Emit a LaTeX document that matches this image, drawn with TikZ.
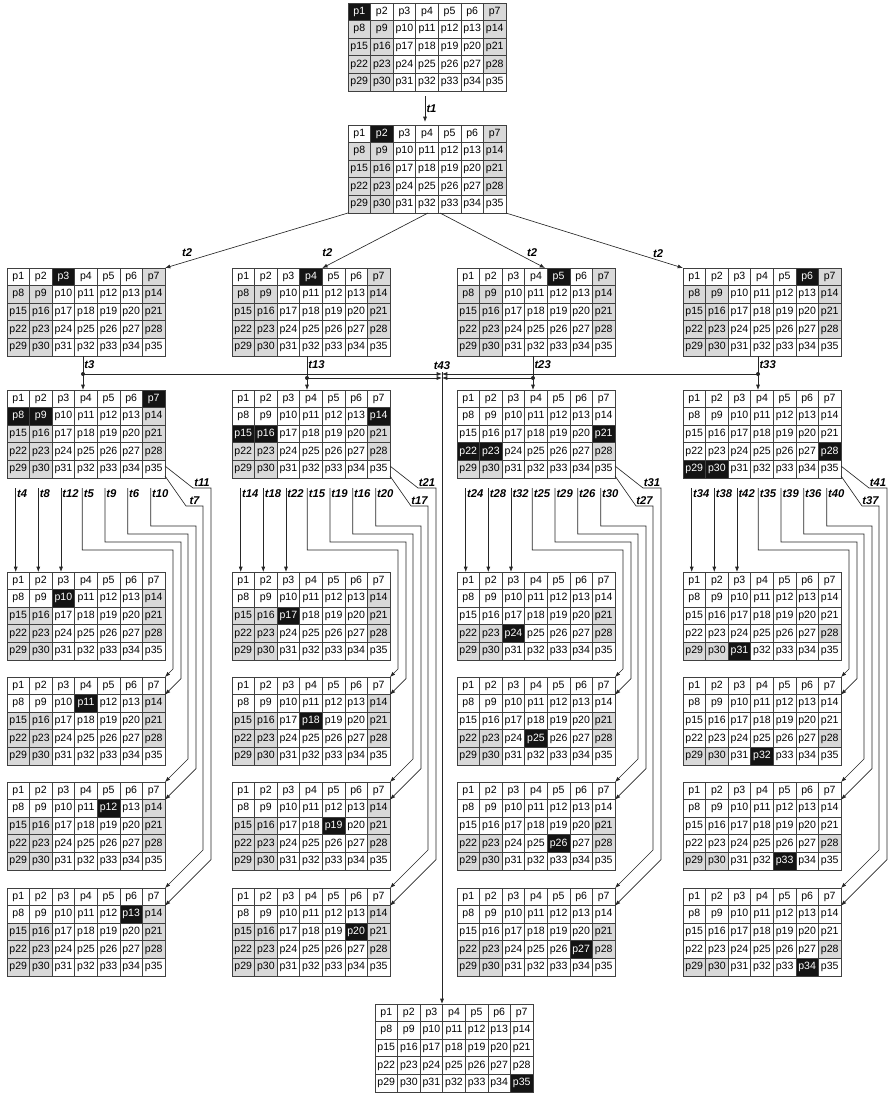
\documentclass[tikz,border=0pt]{standalone}
\usepackage{fontspec}
\setmainfont{Liberation Sans}
\usetikzlibrary{arrows.meta,calc}
\tikzset{
  gridbox/.style={anchor=north west,inner sep=0pt,outer sep=0pt,minimum width=4.74cm,minimum height=2.64cm},
  gridline/.style={draw=black!75,line width=0.6pt},
  celltxt/.style={font=\fontsize{9}{10}\selectfont,inner sep=0pt},
  lbl/.style={font=\fontsize{9.6}{10}\selectfont\bfseries\itshape,inner sep=1pt},
  arr/.style={-{Latex[length=4.5pt,width=3.4pt]},line width=0.55pt,draw=black!85},
  dot/.style={fill=black!85}
}
\newcommand{\cellw}{22.571}
\newcommand{\cellh}{17.6}
% one 7x5 board: name, top-left corner, black cells, gray cells (0 = none)
\newcommand{\pgrid}[4]{%
  \node[gridbox] (#1) at (#2) {};
  \foreach \n in {#4}{
    \ifnum\n>0
      \pgfmathtruncatemacro{\cx}{mod(\n-1,7)}
      \pgfmathtruncatemacro{\ry}{div(\n-1,7)}
      \fill[black!15] ($(#1.north west)+(\cx*\cellw,\ry*\cellh)$) rectangle ++(\cellw,\cellh);
    \fi
  }
  \foreach \n in {#3}{
    \expandafter\xdef\csname on#1@\n\endcsname{1}
    \pgfmathtruncatemacro{\cx}{mod(\n-1,7)}
    \pgfmathtruncatemacro{\ry}{div(\n-1,7)}
    \fill[black!92] ($(#1.north west)+(\cx*\cellw,\ry*\cellh)$) rectangle ++(\cellw,\cellh);
  }
  \foreach \k in {1,...,6}
    \draw[gridline] ($(#1.north west)+(\k*\cellw,0)$) -- ++(0,5*\cellh);
  \foreach \k in {1,...,4}
    \draw[gridline] ($(#1.north west)+(0,\k*\cellh)$) -- ++(7*\cellw,0);
  \foreach \n in {1,...,35}{
    \pgfmathtruncatemacro{\cx}{mod(\n-1,7)}
    \pgfmathtruncatemacro{\ry}{div(\n-1,7)}
    \ifcsname on#1@\n\endcsname \def\tcol{white}\else \def\tcol{black}\fi
    \node[celltxt,text=\tcol] (#1-\n) at ($(#1.north west)+(\cx*\cellw+0.5*\cellw,\ry*\cellh+0.5*\cellh)$) {p\n};
  }
  \draw[gridline] (#1.north west) rectangle (#1.south east);
}

\begin{document}
\begin{tikzpicture}[x=0.03cm,y=-0.03cm]
\useasboundingbox (0,0) rectangle (887,1093);

% boards
\pgrid{g0}{348,3}{1}{7,8,9,14,15,16,21,22,23,28,29,30}
\pgrid{g1}{348,125}{2}{7,8,9,14,15,16,21,22,23,28,29,30}
\pgrid{g2a}{7,268}{3}{7,8,9,14,15,16,21,22,23,28,29,30}
\pgrid{g2b}{232,268}{4}{7,8,9,14,15,16,21,22,23,28,29,30}
\pgrid{g2c}{457,268}{5}{7,8,9,14,15,16,21,22,23,28,29,30}
\pgrid{g2d}{683,268}{6}{7,8,9,14,15,16,21,22,23,28,29,30}
\pgrid{g3a}{7,390}{7,8,9}{14,15,16,21,22,23,28,29,30}
\pgrid{g3b}{232,390}{14,15,16}{21,22,23,28,29,30}
\pgrid{g3c}{457,390}{21,22,23}{28,29,30}
\pgrid{g3d}{683,390}{28,29,30}{0}
\pgrid{g4a1}{7,572}{10}{14,15,16,21,22,23,28,29,30}
\pgrid{g4a2}{7,677}{11}{14,15,16,21,22,23,28,29,30}
\pgrid{g4a3}{7,782}{12}{14,15,16,21,22,23,28,29,30}
\pgrid{g4a4}{7,888}{13}{14,15,16,21,22,23,28,29,30}
\pgrid{g4b1}{232,572}{17}{14,15,16,21,22,23,28,29,30}
\pgrid{g4b2}{232,677}{18}{14,15,16,21,22,23,28,29,30}
\pgrid{g4b3}{232,782}{19}{14,15,16,21,22,23,28,29,30}
\pgrid{g4b4}{232,888}{20}{14,15,16,21,22,23,28,29,30}
\pgrid{g4c1}{457,572}{24}{21,22,23,28,29,30}
\pgrid{g4c2}{457,677}{25}{21,22,23,28,29,30}
\pgrid{g4c3}{457,782}{26}{21,22,23,28,29,30}
\pgrid{g4c4}{457,888}{27}{21,22,23,28,29,30}
\pgrid{g4d1}{683,572}{31}{28,29,30}
\pgrid{g4d2}{683,677}{32}{28,29,30}
\pgrid{g4d3}{683,782}{33}{28,29,30}
\pgrid{g4d4}{683,888}{34}{28,29,30}
\pgrid{gend}{375,1004}{35}{0}

% first steps
\draw[arr] ($(g0.south)+(-2,5)$) -- ($(g1.north)+(-2,-3)$) node[lbl,midway,right]{t1};
\draw[arr] (g1.south west) -- (g2a.north east) node[lbl,pos=1,shift={(22,-15)}]{t2};
\draw[arr] ($(g1.south west)+(80,0)$) -- ($(g2b.north west)+(90.3,0)$) node[lbl,pos=1,shift={(5,-15)}]{t2};
\draw[arr] ($(g1.south west)+(92,0)$) -- ($(g2c.north west)+(88,0)$) node[lbl,pos=1,shift={(-13,-15)}]{t2};
\draw[arr] (g1.south east) -- (g2d.north west) node[lbl,pos=1,shift={(-25,-14)}]{t2};

% second level and the merge t43
\coordinate (ja) at ($(g2a.south west)+(76,18)$);
\coordinate (jb) at ($(g2b.south west)+(75,22)$);
\coordinate (jc) at ($(g2c.south west)+(76,22)$);
\coordinate (jd) at ($(g2d.south west)+(75,18)$);
\coordinate (j43) at (442,372);
\draw[arr] ($(g2a.south west)+(76,0)$) -- ($(g3a.north west)+(76,0)$) node[lbl,pos=0.24,right]{t3};
\draw[arr] ($(g2b.south west)+(75,0)$) -- ($(g3b.north west)+(75,0)$) node[lbl,pos=0.24,right]{t13};
\draw[arr] ($(g2c.south west)+(76,0)$) -- ($(g3c.north west)+(76,0)$) node[lbl,pos=0.24,right]{t23};
\draw[arr] ($(g2d.south west)+(75,0)$) -- ($(g3d.north west)+(75,0)$) node[lbl,pos=0.24,right]{t33};
\foreach \j in {ja,jb,jc,jd}{
  \fill[dot] (\j) circle[radius=1.7pt];
  \draw[arr] (\j) -- (\j -| j43);
}
\draw[arr] (j43) node[lbl,above=1pt]{t43} -- ($(gend.north west)+(67,0)$);

% third level into the fourth
\foreach \col/\tA/\tB/\tC/\tD/\tE/\tF/\tG/\tH/\tI in {a/4/8/12/5/9/6/10/7/11,b/14/18/22/15/19/16/20/17/21,c/24/28/32/25/29/26/30/27/31,d/34/38/42/35/39/36/40/37/41}{
  \foreach \dx/\tn in {8.7/\tA,31.3/\tB,54/\tC}
    \draw[arr] ($(g3\col.south west)+(\dx,10)$) node[lbl,anchor=north west]{t\tn} -- ($(g4\col1.north west)+(\dx,0)$);
  \draw[arr] ($(g3\col.south west)+(75.3,10)$) node[lbl,anchor=north west]{t\tD}
    |- ($(g3\col.south west)+(166,72)$) -- ($(g4\col2.north east)+(8,-8)$) -- (g4\col2.north east);
  \draw[arr] ($(g3\col.south west)+(98,10)$) node[lbl,anchor=north west]{t\tE}
    |- ($(g3\col.south west)+(174,64)$) -- ($(g4\col2.north east)+(16,1.6)$) -- ($(g4\col2.north east)+(0,17.6)$);
  \draw[arr] ($(g3\col.south west)+(120.7,10)$) node[lbl,anchor=north west]{t\tF}
    |- ($(g3\col.south west)+(181,56)$) -- ($(g4\col3.north east)+(23,-23)$) -- (g4\col3.north east);
  \draw[arr] ($(g3\col.south west)+(143.7,10)$) node[lbl,anchor=north west]{t\tG}
    |- ($(g3\col.south west)+(189,48)$) -- ($(g4\col3.north east)+(31,-13.4)$) -- ($(g4\col3.north east)+(0,17.6)$);
  \draw[arr] ($(g3\col.south east)+(0,-2)$) -- ($(g3\col.south west)+(179,28)$)
    -- ($(g3\col.south west)+(196,28)$) node[lbl,midway,above]{t\tH}
    -- ($(g4\col4.north east)+(38,-38)$) -- (g4\col4.north east);
  \draw[arr] ($(g3\col.south east)+(0,-12)$) -- ($(g3\col.south west)+(186,10)$)
    -- ($(g3\col.south west)+(204,10)$) node[lbl,midway,above]{t\tI}
    -- ($(g4\col4.north east)+(46,-28.4)$) -- ($(g4\col4.north east)+(0,17.6)$);
}
\end{tikzpicture}
\end{document}
